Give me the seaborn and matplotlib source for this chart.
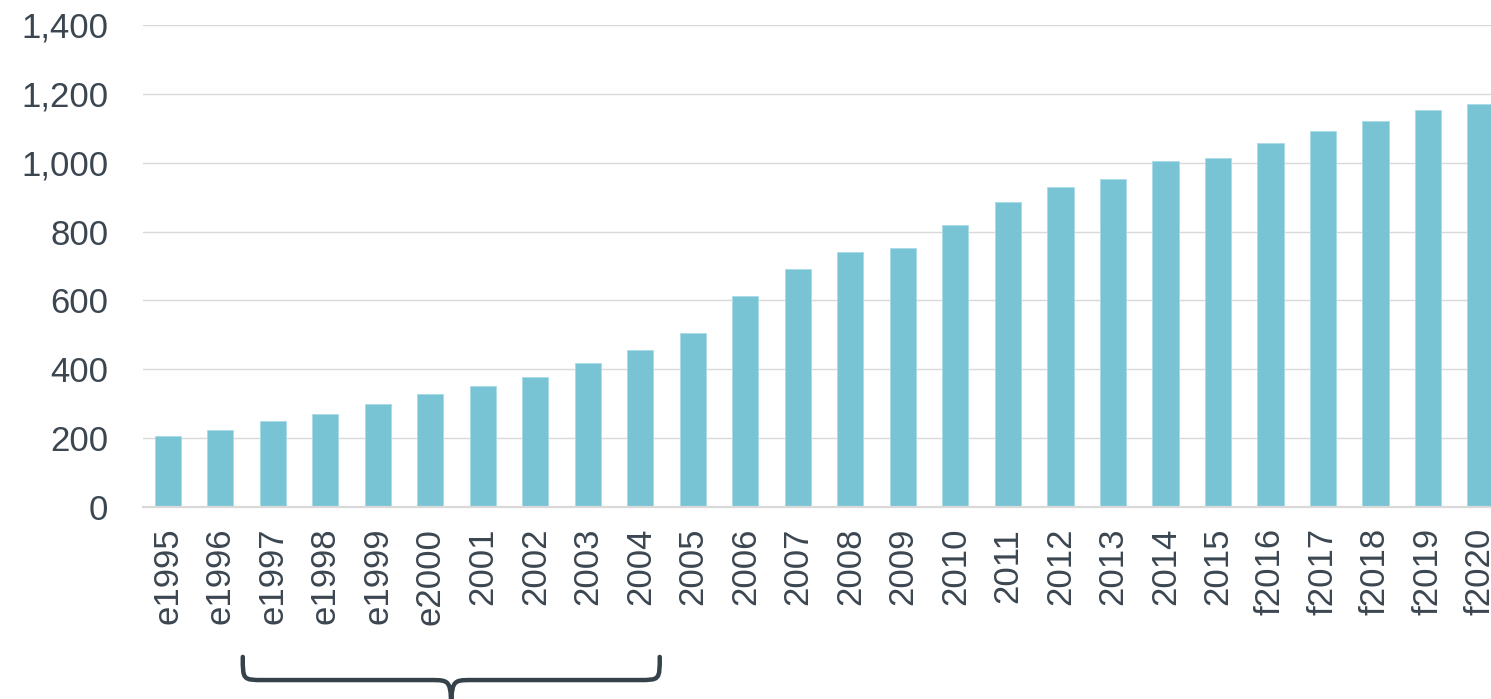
import matplotlib
matplotlib.use("Agg")
import matplotlib.pyplot as plt
import seaborn as sns
import pandas as pd
from matplotlib.path import Path
from matplotlib.patches import PathPatch
from matplotlib.ticker import FuncFormatter
import matplotlib.transforms as mtransforms

years = ["e1995", "e1996", "e1997", "e1998", "e1999", "e2000", "2001", "2002",
         "2003", "2004", "2005", "2006", "2007", "2008", "2009", "2010", "2011",
         "2012", "2013", "2014", "2015", "f2016", "f2017", "f2018", "f2019", "f2020"]
values = [206, 224, 250, 270, 299, 327, 351, 377, 418, 456, 506, 613, 691, 741,
          751, 819, 886, 929, 952, 1004, 1013, 1056, 1092, 1121, 1152, 1171]
yticks = [0, 200, 400, 600, 800, 1000, 1200, 1400]
brace_start, brace_end = "e1997", "2004"

bar_color = "#79C4D4"
text_color = "#3B4650"
grid_color = "#D9D9D9"

sns.set_style("white")
plt.rcParams["font.family"] = ["Liberation Sans", "DejaVu Sans"]

W, H = 1491, 699
fig = plt.figure(figsize=(W / 100, H / 100), dpi=100)
ax = fig.add_axes([143 / W, 1 - 507 / H, (W - 143) / W, 482 / H])

df = pd.DataFrame({"year": years, "value": values})
sns.barplot(data=df, x="year", y="value", color=bar_color, width=0.5,
            saturation=1, edgecolor="#A9DCE6", linewidth=0.6, ax=ax, zorder=3)

ax.set_ylim(0, 1400)
ax.set_xlim(-0.47, 25.2)
ax.set_yticks(yticks)
ax.yaxis.set_major_formatter(FuncFormatter(lambda v, p: f"{int(v):,}"))
ax.grid(axis="y", color=grid_color, linewidth=1.0, zorder=0)
ax.grid(axis="x", visible=False)
for s in ["top", "right", "left"]:
    ax.spines[s].set_visible(False)
ax.spines["bottom"].set_color(grid_color)
ax.spines["bottom"].set_linewidth(1.6)
ax.spines["bottom"].set_zorder(4)
ax.set_xlabel("")
ax.set_ylabel("")
ax.tick_params(axis="y", length=0, pad=25, labelsize=25, labelcolor=text_color)
ax.tick_params(axis="x", length=0, pad=15, labelsize=25, labelcolor=text_color,
               rotation=90)
for lbl in ax.get_xticklabels():
    lbl.set_verticalalignment("top")
    lbl.set_horizontalalignment("center")

# curly brace annotation under e1997..2004
i0 = years.index(brace_start)
i1 = years.index(brace_end)
x0 = i0 - 0.57
x1 = i1 + 0.37
xm = (x0 + x1) / 2
r = 0.40
y_top, y_mid, y_tip = -0.311, -0.359, -0.44
verts = [
    (x0, y_top), (x0, y_mid), (x0, y_mid), (x0 + r, y_mid),
    (xm - r, y_mid),
    (xm, y_mid), (xm, y_mid), (xm, y_tip),
    (xm, y_tip), (xm, y_mid), (xm, y_mid), (xm + r, y_mid),
    (x1 - r, y_mid),
    (x1, y_mid), (x1, y_mid), (x1, y_top),
]
codes = [Path.MOVETO, Path.CURVE4, Path.CURVE4, Path.CURVE4,
         Path.LINETO,
         Path.CURVE4, Path.CURVE4, Path.CURVE4,
         Path.MOVETO, Path.CURVE4, Path.CURVE4, Path.CURVE4,
         Path.LINETO,
         Path.CURVE4, Path.CURVE4, Path.CURVE4]
trans = mtransforms.blended_transform_factory(ax.transData, ax.transAxes)
patch = PathPatch(Path(verts, codes), transform=trans, facecolor="none",
                  edgecolor="#36424A", linewidth=3.2, capstyle="round",
                  joinstyle="round", clip_on=False)
ax.add_patch(patch)

fig.savefig("out.png", dpi=100)
